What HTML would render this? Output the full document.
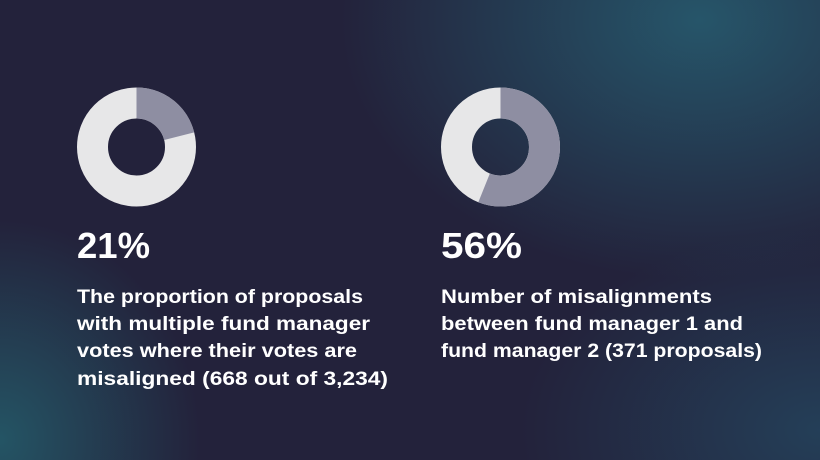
<!DOCTYPE html>
<html><head><meta charset="utf-8"><style>
html,body{margin:0;padding:0;width:820px;height:460px;overflow:hidden}
body{background:#23223b;position:relative;font-family:"Liberation Sans",sans-serif}
.bg{position:absolute;inset:0;background:
radial-gradient(ellipse 360px 260px at 700px 20px,rgba(38,88,108,0.95),rgba(38,88,108,0) 100%),
radial-gradient(ellipse 300px 200px at 820px 430px,rgba(36,70,95,0.8),rgba(36,70,95,0) 100%),
radial-gradient(ellipse 200px 220px at 0px 440px,rgba(36,90,105,0.9),rgba(36,90,105,0) 100%);}
svg{position:absolute;left:0;top:0}
</style></head><body><div class="bg"></div>
<svg width="820" height="460" viewBox="0 0 820 460">
<g transform="translate(136.5,147) rotate(-90)">
<circle r="44" fill="none" stroke="#e7e7e8" stroke-width="31"/>
<circle r="44" fill="none" stroke="#8e8ea2" stroke-width="31" stroke-dasharray="58.06 400"/>
</g>
<g transform="translate(500.5,147) rotate(-90)">
<circle r="44" fill="none" stroke="#e7e7e8" stroke-width="31"/>
<circle r="44" fill="none" stroke="#8e8ea2" stroke-width="31" stroke-dasharray="154.8 400"/>
</g>
<g fill="#fff" font-family="Liberation Sans, sans-serif" font-weight="bold">
<text x="77" y="258" font-size="36" textLength="73" lengthAdjust="spacingAndGlyphs">21%</text>
<text x="441" y="258" font-size="36" textLength="81" lengthAdjust="spacingAndGlyphs">56%</text>
<g font-size="19">
<text x="77" y="303" textLength="286" lengthAdjust="spacingAndGlyphs">The proportion of proposals</text>
<text x="77" y="330" textLength="293" lengthAdjust="spacingAndGlyphs">with multiple fund manager</text>
<text x="77" y="357" textLength="280" lengthAdjust="spacingAndGlyphs">votes where their votes are</text>
<text x="77" y="385" textLength="311" lengthAdjust="spacingAndGlyphs">misaligned (668 out of 3,234)</text>
<text x="441" y="303" textLength="271" lengthAdjust="spacingAndGlyphs">Number of misalignments</text>
<text x="441" y="330" textLength="302" lengthAdjust="spacingAndGlyphs">between fund manager 1 and</text>
<text x="441" y="357" textLength="321" lengthAdjust="spacingAndGlyphs">fund manager 2 (371 proposals)</text>
</g></g>
</svg>
</body></html>
